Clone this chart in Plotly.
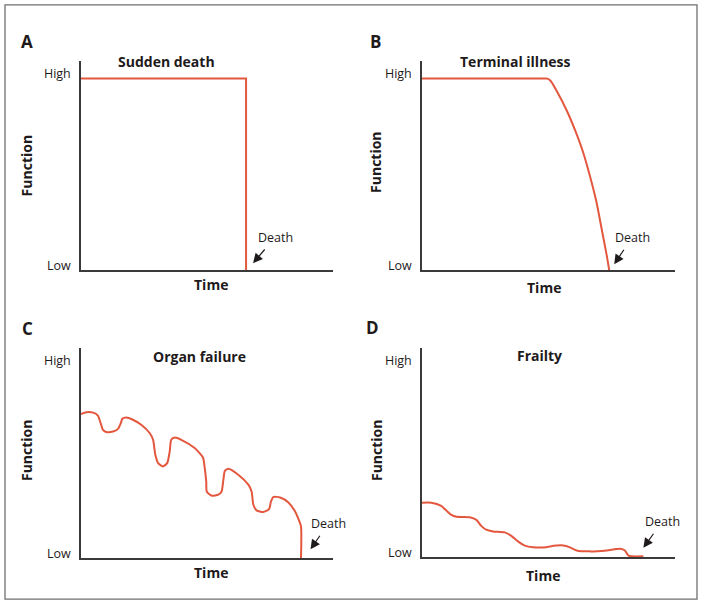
import plotly.graph_objects as go

# ---------------- data (Time 0-100, Function: Low=0, High=100) ----------------
a_time = [0, 65.5, 65.5]
a_func = [100, 100, 0]

b_time = [0, 48.6, 49.6, 50.8, 53.2, 57.2, 60.5, 63.8, 66.4, 69.0, 71.0, 73.0, 74.0]
b_func = [100, 100, 99.9, 98.8, 93.6, 83.3, 73.0, 61.0, 49.0, 35.3, 21.6, 7.9, 0]

c_time = [0.0, 2.1, 4.8, 6.7, 7.8, 8.7, 10.0, 12.7, 14.7, 15.8, 16.4, 18.0, 20.6, 23.9,
          27.3, 28.6, 29.5, 30.6, 32.5, 34.2, 35.2, 35.8, 37.2, 39.8, 45.1, 48.4, 49.1,
          49.7, 49.9, 51.9, 54.5, 55.8, 56.5, 57.1, 58.5, 62.4, 66.4, 67.7, 68.4, 69.7,
          72.3, 74.6, 75.4, 76.3, 79.0, 82.3, 84.9, 86.5, 87.3, 87.3]
c_func = [74.8, 75.8, 75.6, 74.1, 70.1, 66.7, 65.6, 65.8, 67.2, 70.1, 72.4, 73.1, 71.9, 69.3,
          64.9, 61.5, 53.7, 49.4, 47.7, 49.4, 55.4, 61.5, 62.7, 61.5, 57.2, 52.3, 46.8,
          39.9, 34.7, 32.5, 33.0, 34.7, 40.8, 45.4, 46.5, 43.4, 38.2, 34.7, 27.8, 24.9,
          24.0, 25.5, 29.5, 31.8, 31.6, 29.0, 24.4, 19.7, 16.6, 0]

d_time = [0, 3.7, 7.6, 9.6, 11.6, 13.6, 18.9, 21.5, 23.4, 25.4, 28.1, 32.7, 35.3, 37.9,
          40.6, 43.9, 49.1, 50.6, 55.8, 58.5, 61.1, 66.4, 73.0, 78.3, 80.2, 81.5, 82.9, 87.5]
d_func = [28.5, 28.5, 26.8, 24.4, 22.1, 21.1, 20.9, 19.5, 16.4, 14.4, 13.5, 13.0, 11.2, 8.3,
          6.1, 5.2, 5.3, 5.7, 6.2, 5.2, 3.6, 3.1, 3.6, 4.5, 3.6, 1.0, 0.5, 0.5]

panel_letters = ["A", "B", "C", "D"]
panel_titles = ["Sudden death", "Terminal illness", "Organ failure", "Frailty"]
y_tick_text = ["Low", "High"]
x_title = "Time"
y_title = "Function"
death_label = "Death"

# ---------------- styling ----------------
W, H = 704, 610
RED = "#E4573F"
INK = "#1e1a1b"
AXIS = "#3a3a3a"
FONT = "Open Sans, sans-serif"

def px(x):
    return x / W

def py(y):
    return 1 - y / H

# plot areas in pixels: (left, right, top, bottom)
areas = [(81, 333, 61, 272), (422, 675, 61, 272), (81, 333, 350, 562), (422, 675, 350, 561)]
series = [(a_time, a_func, "linear"), (b_time, b_func, "spline"),
          (c_time, c_func, "spline"), (d_time, d_func, "spline")]

fig = go.Figure()
for i, ((l, r, t, b), (xs, ys, shape)) in enumerate(zip(areas, series)):
    n = "" if i == 0 else str(i + 1)
    line = dict(color=RED, width=2, shape=shape)
    if shape == "spline":
        line["smoothing"] = 0.6
    fig.add_trace(go.Scatter(x=xs, y=ys, mode="lines", line=line,
                             xaxis="x" + n, yaxis="y" + n, hoverinfo="skip"))
    fig.layout["xaxis" + n] = dict(domain=[px(l), px(r)], range=[0, 100], anchor="y" + n,
                                   showline=True, linecolor=AXIS, linewidth=1.5,
                                   showgrid=False, zeroline=False, showticklabels=False,
                                   ticks="", fixedrange=True)
    fig.layout["yaxis" + n] = dict(domain=[py(b), py(t)], range=[0, 109.3], anchor="x" + n,
                                   showline=True, linecolor=AXIS, linewidth=1.5,
                                   showgrid=False, zeroline=False, ticks="",
                                   tickvals=[2.5, 102.5], ticktext=y_tick_text,
                                   tickfont=dict(family=FONT, size=12.5, color=INK),
                                   ticklabelstandoff=6, fixedrange=True)

annotations = []
# panel letters
for txt, (x, y) in zip(panel_letters, [(27, 42), (375, 42), (27.5, 331), (372.5, 330)]):
    annotations.append(dict(text="<b>%s</b>" % txt, x=px(x), y=py(y), xref="paper", yref="paper",
                            showarrow=False, xanchor="center", yanchor="middle",
                            font=dict(family=FONT, size=17, color=INK)))
# panel titles
for txt, (x, y) in zip(panel_titles, [(166, 62), (515, 62), (199, 359), (539, 358)]):
    annotations.append(dict(text="<b>%s</b>" % txt, x=px(x), y=py(y), xref="paper", yref="paper",
                            showarrow=False, xanchor="center", yanchor="middle",
                            font=dict(family=FONT, size=14, color=INK)))
# y axis titles
for (x, y) in [(26.5, 167), (376, 163), (26, 453), (376, 453)]:
    annotations.append(dict(text="<b>%s</b>" % y_title, x=px(x), y=py(y), xref="paper", yref="paper",
                            showarrow=False, xanchor="center", yanchor="middle", textangle=-90,
                            font=dict(family=FONT, size=14, color=INK)))
# x axis titles
for (x, y) in [(211, 286), (544, 289), (211, 576), (543, 579)]:
    annotations.append(dict(text="<b>%s</b>" % x_title, x=px(x), y=py(y), xref="paper", yref="paper",
                            showarrow=False, xanchor="center", yanchor="middle",
                            font=dict(family=FONT, size=14, color=INK)))
# death markers with arrows (head near the end of each trajectory)
arrow_geo = [(7, 7, 22, -26), (5, 6, 18, -27), (9.5, 9, 18, -26), (0, 9.5, 19, -26.5)]
for i, ((xs, ys, _), (xsh, ysh, ax, ay)) in enumerate(zip(series, arrow_geo)):
    n = "" if i == 0 else str(i + 1)
    annotations.append(dict(text=death_label, x=xs[-1], y=0, xref="x" + n, yref="y" + n,
                            xshift=xsh, yshift=ysh, showarrow=True, ax=ax, ay=ay,
                            arrowhead=2, arrowsize=1.6, arrowwidth=1.2, arrowcolor=INK,
                            startstandoff=3,
                            font=dict(family=FONT, size=12.5, color=INK)))

fig.update_layout(
    width=W, height=H, margin=dict(l=0, r=0, t=0, b=0),
    paper_bgcolor="white", plot_bgcolor="white", showlegend=False,
    annotations=annotations,
    shapes=[dict(type="rect", xref="paper", yref="paper", x0=px(5), x1=px(697),
                 y0=py(603), y1=py(5), line=dict(color="#707070", width=1.3))],
)

fig.write_html("out.html", config={"displayModeBar": False},
               post_script="document.body.style.margin='0';document.body.style.padding='0';")
